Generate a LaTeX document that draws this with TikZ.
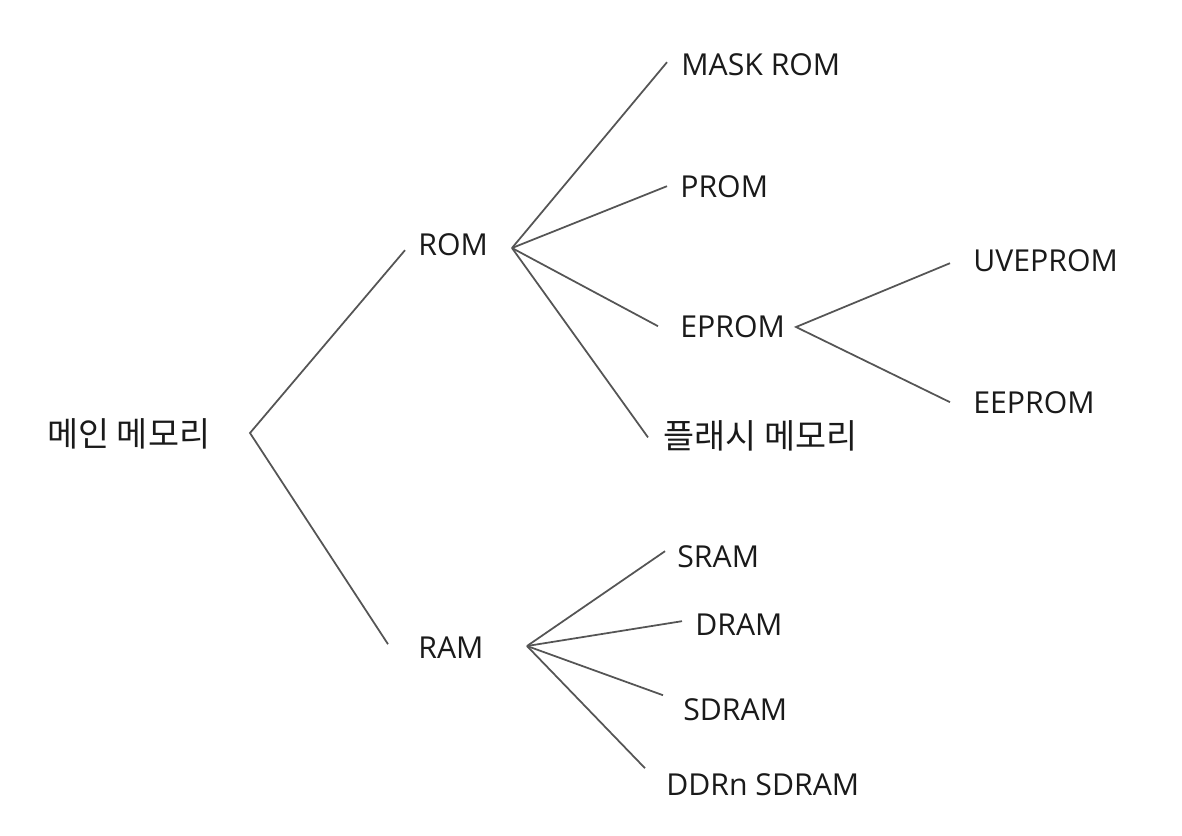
\documentclass[tikz,border=0pt]{standalone}
\usepackage{fontspec}
\setmainfont{Open Sans}
\newfontfamily\krfont{Noto Sans CJK KR}
\usetikzlibrary{calc}
\definecolor{txtcol}{HTML}{1A1A1A}
\definecolor{linecol}{HTML}{555555}
\begin{document}
\begin{tikzpicture}[x=0.2mm,y=-0.2mm,
    item/.style={anchor=base west,inner sep=0pt,text=txtcol,font=\fontsize{17.2pt}{20pt}\selectfont},
    kritem/.style={item,font=\krfont\fontsize{19.2pt}{22pt}\selectfont},
    branch/.style={draw=linecol,line width=1pt}]
    \useasboundingbox (0,0) rectangle (1182,835);
    % labels
    \node[kritem] (main) at (47,446) {메인 메모리};
    \node[item] (rom) at (418,255) {ROM};
    \node[item] (ram) at (418,658) {RAM};
    \node[item] (mask) at (681,75) {MASK ROM};
    \node[item] (prom) at (680,197) {PROM};
    \node[item] (eprom) at (680,337) {EPROM};
    \node[kritem] (flash) at (663,448) {플래시 메모리};
    \node[item] (uveprom) at (973,271) {UVEPROM};
    \node[item] (eeprom) at (973,413) {EEPROM};
    \node[item] (sram) at (677,567) {SRAM};
    \node[item] (dram) at (695,635) {DRAM};
    \node[item] (sdram) at (683,720) {SDRAM};
    \node[item] (ddrn) at (666,795) {DDRn SDRAM};
    % fork points
    \coordinate (mainfork) at (250,433);
    \coordinate (romfork) at (512,248);
    \coordinate (epromfork) at (796,327);
    \coordinate (ramfork) at (527,646);
    % branches
    \draw[branch] ($(rom.west)+(-13,6)$) -- (mainfork) -- ($(ram.west)+(-30,-3)$);
    \draw[branch] (romfork) -- ($(mask.west)+(-14,-2)$);
    \draw[branch] (romfork) -- ($(prom.west)+(-13,0)$);
    \draw[branch] (romfork) -- ($(eprom.west)+(-22,0)$);
    \draw[branch] (romfork) -- ($(flash.west)+(-15,2)$);
    \draw[branch] ($(uveprom.west)+(-23,3)$) -- (epromfork) -- ($(eeprom.west)+(-23,0)$);
    \draw[branch] (ramfork) -- ($(sram.west)+(-12,-5)$);
    \draw[branch] (ramfork) -- ($(dram.west)+(-13,-3)$);
    \draw[branch] (ramfork) -- ($(sdram.west)+(-20,-14)$);
    \draw[branch] (ramfork) -- ($(ddrn.west)+(-21,-16)$);
\end{tikzpicture}
\end{document}
